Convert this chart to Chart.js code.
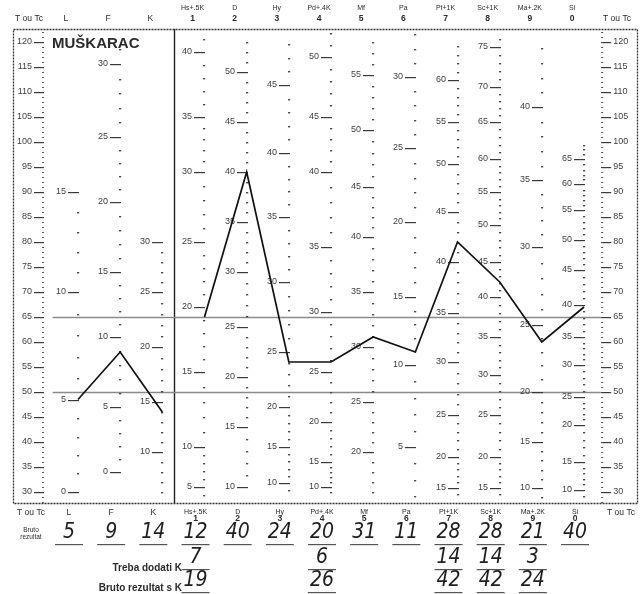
<!DOCTYPE html>
<html>
<head>
<meta charset="utf-8">
<script src="https://cdn.jsdelivr.net/npm/chart.js@4"></script>
<style>
  html, body { margin: 0; padding: 0; background: #fff; }
  canvas { display: block; }
</style>
</head>
<body>
<canvas id="c" width="642" height="594"></canvas>
<script>
// Columns of the profile sheet, left to right
const scaleNames   = ['L', 'F', 'K', 'Hs+.5K', 'D', 'Hy', 'Pd+.4K', 'Mf', 'Pa', 'Pt+1K', 'Sc+1K', 'Ma+.2K', 'Si'];
const scaleNumbers = ['', '', '', '1', '2', '3', '4', '5', '6', '7', '8', '9', '0'];

// Plotted T scores (validity scales and clinical scales)
const validityT = [48.5, 58, 46];
const clinicalT = [65, 94, 56, 56, 61, 58, 80, 72, 60, 67];

// Raw scores written under the profile
const rawScores = ['5', '9', '14', '12', '40', '24', '20', '31', '11', '28', '28', '21', '40'];
const kAdded    = ['', '', '', '7', '', '', '6', '', '', '14', '14', '3', ''];
const rawWithK  = ['', '', '', '19', '', '', '26', '', '', '42', '42', '24', ''];

// T score axis labels
const tLabels = [30, 35, 40, 45, 50, 55, 60, 65, 70, 75, 80, 85, 90, 95, 100, 105, 110, 115, 120];
const tLimits = [50, 65];

// Raw score scale of every column: [raw score, T score] for each labelled tick
const scaleL  = [[0, 30], [5, 48.5], [10, 70], [15, 90]];
const scaleF  = [[0, 34], [5, 47], [10, 61], [15, 74], [20, 88], [25, 101], [30, 115.6]];
const scaleK  = [[10, 38], [15, 48], [20, 59], [25, 70], [30, 80]];
const scaleHs = [[5, 31], [10, 39], [15, 54], [20, 67], [25, 80], [30, 94], [35, 105], [40, 118]];
const scaleD  = [[10, 31], [15, 43], [20, 53], [25, 63], [30, 74], [35, 84], [40, 94], [45, 104], [50, 114]];
const scaleHy = [[10, 31.8], [15, 39], [20, 47], [25, 58], [30, 72], [35, 85], [40, 97.8], [45, 111.4]];
const scalePd = [[10, 31], [15, 36], [20, 44], [25, 54], [30, 66], [35, 79], [40, 94], [45, 105], [50, 117]];
const scaleMf = [[20, 38], [25, 48], [30, 59], [35, 70], [40, 81], [45, 91], [50, 102.4], [55, 113.4]];
const scalePa = [[5, 39], [10, 55.4], [15, 69], [20, 84], [25, 98.8], [30, 113]];
const scalePt = [[15, 30.8], [20, 37], [25, 45.4], [30, 56], [35, 65.8], [40, 76], [45, 86], [50, 95.6], [55, 104], [60, 112.4]];
const scaleSc = [[15, 30.8], [20, 37], [25, 45.4], [30, 53.4], [35, 61], [40, 69], [45, 76], [50, 83.4], [55, 90], [60, 96.5], [65, 104], [70, 111], [75, 119]];
const scaleMa = [[10, 30.8], [15, 40], [20, 50], [25, 63.4], [30, 79], [35, 92.3], [40, 107]];
const scaleSi = [[10, 30.4], [15, 36], [20, 43.4], [25, 49], [30, 55.4], [35, 61], [40, 67.4], [45, 74.4], [50, 80.4], [55, 86.4], [60, 91.5], [65, 96.5]];

// Lowest and highest raw score marked on each column
const rangeL = [0, 15],  rangeF = [0, 31],  rangeK = [6, 30];
const rangeHs = [4, 41], rangeD = [10, 53], rangeHy = [9, 48], rangePd = [9, 52], rangeMf = [16, 58];
const rangePa = [2, 33], rangePt = [14, 64], rangeSc = [14, 76], rangeMa = [9, 44], rangeSi = [9, 68];

const columnScales = [scaleL, scaleF, scaleK, scaleHs, scaleD, scaleHy, scalePd, scaleMf, scalePa, scalePt, scaleSc, scaleMa, scaleSi];
const columnRanges = [rangeL, rangeF, rangeK, rangeHs, rangeD, rangeHy, rangePd, rangeMf, rangePa, rangePt, rangeSc, rangeMa, rangeSi];

const INK = '#2a2a2a';
const NARROW = '"Liberation Sans Narrow", "Liberation Sans", Arial, sans-serif';

// T positions of the unlabelled raw-score marks of one column
function minorTicks(pairs, range) {
  const out = [];
  for (let k = 0; k < pairs.length - 1; k++) {
    const [r0, t0] = pairs[k], [r1, t1] = pairs[k + 1];
    for (let r = r0 + 1; r < r1; r++) out.push(t0 + (t1 - t0) * (r - r0) / (r1 - r0));
  }
  const [ra, ta] = pairs[0], [rb, tb] = pairs[1];
  const lowStep = (tb - ta) / (rb - ra);
  for (let r = ra - 1; r >= range[0]; r--) out.push(ta + (r - ra) * lowStep);
  const n = pairs.length;
  const [ry, ty] = pairs[n - 2], [rz, tz] = pairs[n - 1];
  const highStep = (tz - ty) / (rz - ry);
  for (let r = rz + 1; r <= range[1]; r++) out.push(tz + (r - rz) * highStep);
  return out;
}

const sheetPlugin = {
  id: 'profileSheet',
  beforeDatasetsDraw(chart) {
    const ctx = chart.ctx;
    const xs = chart.scales.x, ys = chart.scales.y;
    const area = chart.chartArea;
    const px = v => xs.getPixelForValue(v);
    const py = t => ys.getPixelForValue(t);
    const inside = t => t >= ys.min + 0.3 && t <= ys.max - 0.3;
    ctx.save();

    // frame
    ctx.strokeStyle = '#333';
    ctx.lineWidth = 1.3;
    ctx.setLineDash([2, 1]);
    ctx.strokeRect(area.left + 0.5, area.top + 0.5, area.right - area.left - 1, area.bottom - area.top);
    ctx.setLineDash([]);
    // divider between validity and clinical scales
    const divX = Math.round((px(2) + px(3)) / 2 - 9) + 0.5;
    ctx.strokeStyle = '#222';
    ctx.lineWidth = 1.4;
    ctx.beginPath();
    ctx.moveTo(divX, area.top);
    ctx.lineTo(divX, area.bottom);
    ctx.stroke();

    // horizontal limit lines at T 65 and T 50
    ctx.strokeStyle = '#8a8a8a';
    ctx.lineWidth = 1.6;
    tLimits.forEach(t => {
      const y = Math.round(py(t)) + 0.5;
      ctx.beginPath();
      ctx.moveTo(px(-0.6), y);
      ctx.lineTo(px(12.4), y);
      ctx.stroke();
    });

    // T axes on both sides
    const leftX = px(-0.83), rightX = px(12.43);
    ctx.fillStyle = '#555';
    for (let t = Math.ceil(ys.min); t <= ys.max; t++) {
      const y = Math.round(py(t));
      ctx.fillRect(leftX - 1, y, 2, 1);
      ctx.fillRect(rightX - 1, y, 2, 1);
    }
    ctx.font = '9px ' + NARROW;
    ctx.textBaseline = 'middle';
    tLabels.forEach(t => {
      const y = Math.round(py(t));
      ctx.fillStyle = '#3a3a3a';
      ctx.fillRect(leftX - 9, y, 10, 1.2);
      ctx.fillRect(rightX - 1, y, 10, 1.2);
      ctx.fillStyle = '#404040';
      ctx.textAlign = 'right';
      ctx.fillText(String(t), leftX - 11, y);
      ctx.textAlign = 'left';
      ctx.fillText(String(t), rightX + 11, y);
    });

    // raw score scale of every column
    columnScales.forEach((pairs, i) => {
      const x = Math.round(px(i));
      ctx.fillStyle = '#4a4a4a';
      minorTicks(pairs, columnRanges[i]).forEach(t => {
        if (inside(t)) ctx.fillRect(x - 1, Math.round(py(t)), 2.2, 1.4);
      });
      ctx.textAlign = 'right';
      pairs.forEach(([raw, t]) => {
        if (!inside(t)) return;
        const y = Math.round(py(t));
        ctx.fillStyle = '#3a3a3a';
        ctx.fillRect(x - 10, y, 11, 1.2);
        ctx.fillStyle = '#404040';
        ctx.fillText(String(raw), x - 12, y);
      });
    });
    ctx.restore();
  },
  afterDraw(chart) {
    const ctx = chart.ctx;
    const xs = chart.scales.x;
    const area = chart.chartArea;
    const px = v => xs.getPixelForValue(v);
    ctx.save();
    ctx.fillStyle = INK;
    ctx.textBaseline = 'middle';

    // title
    ctx.font = 'bold 15px "Liberation Sans", Arial, sans-serif';
    ctx.textAlign = 'left';
    ctx.fillText('MUŠKARAC', 52, 44);

    // column headings above and below the sheet
    const headTop = [area.top - 21, area.top - 10];
    const headBottom = [area.bottom + 9, area.bottom + 16];
    ctx.textAlign = 'center';
    ctx.font = '8.5px "Liberation Sans", Arial, sans-serif';
    ctx.fillText('T ou Tc', 29, area.top - 10);
    ctx.fillText('T ou Tc', 617, area.top - 10);
    ctx.fillText('T ou Tc', 31, area.bottom + 10);
    ctx.fillText('T ou Tc', 621, area.bottom + 10);
    scaleNames.forEach((name, i) => {
      const xt = px(i) - 12, xb = px(i) - 9;
      if (scaleNumbers[i]) {
        ctx.font = '7px ' + NARROW;
        ctx.fillText(name, xt, headTop[0]);
        ctx.fillText(name, xb, headBottom[0]);
        ctx.font = 'bold 8.5px "Liberation Sans", Arial, sans-serif';
        ctx.fillText(scaleNumbers[i], xt, headTop[1]);
        ctx.fillText(scaleNumbers[i], xb, headBottom[1]);
      } else {
        ctx.font = '8.5px "Liberation Sans", Arial, sans-serif';
        ctx.fillText(name, xt, headTop[1]);
        ctx.fillText(name, xb, area.bottom + 10);
      }
    });

    // raw score rows
    ctx.font = '6.5px ' + NARROW;
    ctx.fillText('Bruto', 31, area.bottom + 27);
    ctx.fillText('rezultat', 31, area.bottom + 34);
    ctx.font = 'bold 10px ' + NARROW;
    ctx.textAlign = 'right';
    ctx.fillText('Treba dodati K', 182, area.bottom + 65);
    ctx.fillText('Bruto rezultat s K', 182, area.bottom + 85);

    const hand = 'italic 21px "DejaVu Sans Condensed", "DejaVu Sans", sans-serif';
    const rows = [[rawScores, area.bottom + 30], [kAdded, area.bottom + 55], [rawWithK, area.bottom + 78]];
    ctx.textAlign = 'center';
    rows.forEach(([vals, y]) => {
      vals.forEach((v, i) => {
        if (!v) return;
        const x = px(i) - 9;
        ctx.font = hand;
        ctx.fillStyle = '#1e1e1e';
        ctx.fillText(v, x, y);
        ctx.fillStyle = '#555';
        ctx.fillRect(x - 14, y + 11, 28, 1.2);
      });
    });
    ctx.restore();
  }
};

const toPoints = (vals, offset) => vals.map((t, i) => ({ x: i + offset, y: t }));

new Chart(document.getElementById('c'), {
  type: 'line',
  data: {
    datasets: [
      { data: toPoints(validityT, 0), borderColor: '#111', borderWidth: 1.7, pointRadius: 0, tension: 0 },
      { data: toPoints(clinicalT, 3), borderColor: '#111', borderWidth: 1.7, pointRadius: 0, tension: 0 }
    ]
  },
  options: {
    responsive: false,
    animation: false,
    events: [],
    layout: { padding: { left: 13, right: 4, top: 29, bottom: 91 } },
    plugins: { legend: { display: false }, tooltip: { enabled: false } },
    scales: {
      x: { type: 'linear', min: -1.541, max: 13.28, display: false },
      y: { type: 'linear', min: 27.8, max: 122.6, display: false }
    }
  },
  plugins: [sheetPlugin]
});
</script>
</body>
</html>
